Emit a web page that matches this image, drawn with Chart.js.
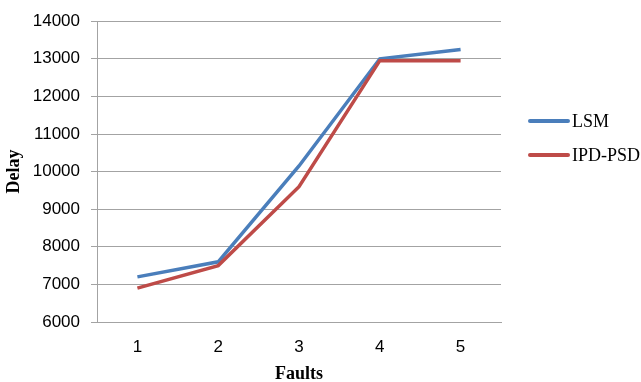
<!DOCTYPE html>
<html>
<head>
<meta charset="utf-8">
<script src="https://cdn.jsdelivr.net/npm/chart.js@4/dist/chart.umd.min.js"></script>
<style>
  html, body { margin: 0; padding: 0; background: #fff; }
  #wrap { width: 641px; height: 382px; position: relative; }
</style>
</head>
<body>
<div id="wrap"><canvas id="c" width="641" height="382"></canvas></div>
<script>
// Delay versus number of faults
const faults = ['1', '2', '3', '4', '5'];
const lsmDelay = [7200, 7600, 10150, 13000, 13250];
const ipdPsdDelay = [6900, 7500, 9600, 12950, 12950];
const yTicks = [6000, 7000, 8000, 9000, 10000, 11000, 12000, 13000, 14000];

const gridColor = '#a3a3a3';
const tickFont = { family: 'Liberation Sans, Arial, sans-serif', size: 17 };

// Legend drawn beside the plot: short line sample followed by the series name
const sideLegend = {
  id: 'sideLegend',
  afterDraw(chart) {
    const ctx = chart.ctx;
    const area = chart.chartArea;
    const x0 = area.right + 29;
    const rows = [121, 155];
    ctx.save();
    ctx.font = '18px "Liberation Serif", "Times New Roman", serif';
    ctx.textBaseline = 'middle';
    ctx.textAlign = 'left';
    chart.data.datasets.forEach((ds, i) => {
      const y = rows[i];
      ctx.strokeStyle = ds.borderColor;
      ctx.lineWidth = 4;
      ctx.lineCap = 'round';
      ctx.beginPath();
      ctx.moveTo(x0, y);
      ctx.lineTo(x0 + 38, y);
      ctx.stroke();
      ctx.fillStyle = '#000';
      ctx.fillText(ds.label, x0 + 42, y + 1);
    });
    ctx.restore();
  }
};

new Chart(document.getElementById('c'), {
  type: 'line',
  data: {
    labels: faults,
    datasets: [
      {
        label: 'LSM',
        data: lsmDelay,
        borderColor: '#4a7ebb',
        backgroundColor: '#4a7ebb',
        borderWidth: 3.5,
        pointRadius: 0,
        tension: 0,
        order: 1
      },
      {
        label: 'IPD-PSD',
        data: ipdPsdDelay,
        borderColor: '#be4b48',
        backgroundColor: '#be4b48',
        borderWidth: 3.5,
        pointRadius: 0,
        tension: 0,
        order: 0
      }
    ]
  },
  options: {
    responsive: false,
    animation: false,
    devicePixelRatio: 1,
    layout: { padding: { top: 21, right: 140, left: 0, bottom: 0 } },
    plugins: {
      legend: { display: false },
      tooltip: { enabled: false }
    },
    scales: {
      x: {
        offset: true,
        grid: { display: false, drawTicks: false },
        border: { display: true, color: gridColor, width: 1 },
        ticks: { color: '#000', font: tickFont, padding: 15 },
        title: {
          display: true,
          text: 'Faults',
          color: '#000',
          font: { family: 'Liberation Serif, Times New Roman, serif', size: 18, weight: 'bold', lineHeight: 0.8 },
          padding: { top: 0, bottom: 0 }
        },
        afterFit(scale) { scale.height = 60; }
      },
      y: {
        min: 6000,
        max: 14000,
        afterBuildTicks(scale) { scale.ticks = yTicks.map(v => ({ value: v })); },
        grid: { color: gridColor, lineWidth: 1, drawTicks: true, tickLength: 6, tickColor: gridColor },
        border: { display: true, color: gridColor, width: 1 },
        ticks: { color: '#000', font: tickFont, padding: 11, callback: v => String(v) },
        title: {
          display: true,
          text: 'Delay',
          color: '#000',
          font: { family: 'Liberation Serif, Times New Roman, serif', size: 18, weight: 'bold', lineHeight: 1.2 },
          padding: { top: 4, bottom: 0 }
        },
        afterFit(scale) { scale.width = 97; }
      }
    }
  },
  plugins: [sideLegend]
});
</script>
</body>
</html>
